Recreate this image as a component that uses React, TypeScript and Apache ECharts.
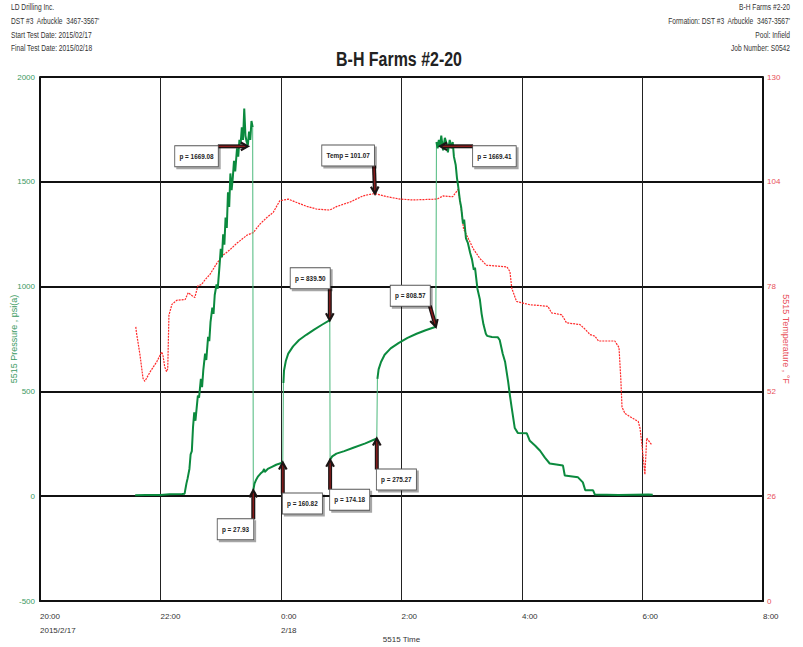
import React, { useEffect, useRef } from "react";
import * as echarts from "echarts";

// ---- Data (hours after 2015/2/17 20:00) ----
const xTickLabels = ["20:00\n2015/2/17", "22:00", "0:00\n2/18", "2:00", "4:00", "6:00", "8:00"];

const pressureSeg1: number[][] = [
  [1.58, 5], [1.75, 6], [2.0, 6], [2.15, 9], [2.36, 10], [2.4, 12],
  [2.43, 60], [2.45, 85], [2.48, 130], [2.5, 200], [2.52, 215], [2.54, 330], [2.56, 400], [2.58, 360],
  [2.6, 420], [2.62, 480], [2.64, 470], [2.67, 560], [2.69, 520], [2.71, 600], [2.74, 680], [2.76, 650],
  [2.79, 760], [2.81, 740], [2.83, 830], [2.86, 900], [2.88, 870], [2.9, 960], [2.93, 1010], [2.95, 990],
  [2.98, 1100], [3.0, 1180], [3.02, 1140], [3.04, 1250], [3.06, 1200], [3.08, 1330], [3.1, 1280],
  [3.12, 1450], [3.14, 1380], [3.16, 1540], [3.18, 1460], [3.2, 1520], [3.22, 1600], [3.24, 1550],
  [3.27, 1660], [3.29, 1620], [3.31, 1700], [3.33, 1680], [3.35, 1760], [3.37, 1700], [3.39, 1850],
  [3.41, 1720], [3.43, 1690], [3.45, 1675], [3.47, 1740], [3.49, 1700], [3.51, 1790], [3.53, 1760],
];
const pressureSeg2: number[][] = [
  [3.54, 27.93], [3.56, 60], [3.59, 80], [3.62, 95], [3.66, 108], [3.7, 118], [3.72, 130], [3.73, 115],
  [3.78, 130], [3.85, 140], [3.92, 150], [4.03, 160.82],
];
const pressureSeg3: number[][] = [
  [4.04, 540], [4.05, 600], [4.08, 645], [4.12, 680], [4.2, 715], [4.3, 745], [4.42, 770], [4.55, 795],
  [4.68, 818], [4.81, 839.5],
];
const pressureSeg4: number[][] = [
  [4.815, 174.18], [4.85, 190], [4.92, 203], [5.05, 215], [5.2, 231], [5.4, 252], [5.59, 275.27],
];
const pressureSeg5: number[][] = [
  [5.6, 560], [5.62, 605], [5.66, 640], [5.72, 675], [5.82, 705], [5.95, 730], [6.1, 755], [6.25, 775],
  [6.4, 792], [6.57, 808.57],
];
const pressureSeg6: number[][] = [
  [6.58, 1690], [6.6, 1660], [6.62, 1700], [6.64, 1669.41], [6.66, 1720], [6.69, 1650], [6.72, 1710],
  [6.75, 1680], [6.77, 1640], [6.8, 1700], [6.83, 1660], [6.85, 1690], [6.87, 1620], [6.9, 1580],
  [6.92, 1520], [6.94, 1480], [6.97, 1410], [6.99, 1380], [7.02, 1300], [7.04, 1320], [7.07, 1230],
  [7.1, 1210], [7.14, 1160], [7.17, 1130], [7.2, 1080], [7.22, 1090], [7.26, 990], [7.3, 940],
  [7.33, 870], [7.36, 820], [7.4, 775], [7.42, 765], [7.5, 760], [7.6, 758], [7.63, 745], [7.68, 680],
  [7.72, 640], [7.77, 547], [7.8, 480], [7.83, 420], [7.88, 325], [7.93, 302], [8.08, 300], [8.13, 264],
  [8.22, 241], [8.3, 217], [8.38, 184], [8.46, 156], [8.68, 146], [8.71, 99], [8.93, 90], [9.01, 66],
  [9.05, 28], [9.18, 28], [9.21, 8], [9.6, 6], [10.1, 8], [10.17, 7],
];

const temperature: number[][] = [
  [1.59, 68], [1.6, 66.7], [1.66, 61], [1.71, 55.2], [1.74, 54.5], [1.83, 56.9], [1.94, 59.4],
  [2.02, 61.8], [2.04, 61], [2.07, 58.1], [2.1, 56.9], [2.12, 57.6], [2.14, 70.9], [2.19, 73.6],
  [2.27, 74.6], [2.41, 74.8], [2.46, 76.5], [2.52, 75.8], [2.57, 75.3], [2.62, 78.2], [2.68, 78.5],
  [2.74, 79.7], [2.82, 81], [2.94, 83.9], [3.04, 85.8], [3.15, 87.1], [3.27, 88.8], [3.44, 90.8],
  [3.54, 91.4], [3.65, 93.5], [3.77, 95.2], [3.87, 96.4], [3.98, 99.3], [4.12, 99.7], [4.27, 98.8],
  [4.43, 97.9], [4.6, 97.2], [4.81, 97.0], [4.93, 97.9], [5.15, 99.0], [5.36, 100.5], [5.48, 100.9],
  [5.56, 101.07], [5.76, 100.3], [5.98, 99.7], [6.19, 99.5], [6.59, 99.7], [6.69, 100.5], [6.85, 100.3],
  [6.94, 102.1], [7.0, 96.4], [7.03, 92.3], [7.11, 89.9], [7.19, 87.4], [7.3, 85], [7.41, 83.3],
  [7.75, 82.9], [7.8, 81.7], [7.83, 77.6], [7.91, 74.3], [8.13, 73.5], [8.3, 73.3], [8.43, 73.1],
  [8.49, 71.5], [8.66, 71.0], [8.74, 69], [8.96, 68.6], [9.05, 67.4], [9.13, 66.1], [9.21, 65.7],
  [9.27, 64.5], [9.54, 64.5], [9.61, 62.9], [9.64, 55.1], [9.66, 48.1], [9.71, 46.5], [9.93, 44.5],
  [9.96, 42.8], [9.99, 38.8], [10.04, 31.4], [10.07, 40.4], [10.15, 38.8],
];

// annotation values: [hour, value]
const pressureNotes: number[][] = [
  [3.45, 1669.08], [6.64, 1669.41], [4.81, 839.5], [6.57, 808.57],
  [3.54, 27.93], [4.03, 160.82], [4.815, 174.18], [5.59, 275.27],
];
const pressureNoteText = [
  "p = 1669.08", "p = 1669.41", "p = 839.50", "p = 808.57",
  "p = 27.93", "p = 160.82", "p = 174.18", "p = 275.27",
];
const tempNotes: number[][] = [[5.56, 101.07]];
const tempNoteText = ["Temp = 101.07"];

// layout of annotation boxes (offset of arrow tail from tip, and box corner at the tail)
const pressureNoteLayout = [
  { dx: -30, dy: 0, anchor: "tr" },
  { dx: 33, dy: 0, anchor: "tl" },
  { dx: 0, dy: -32, anchor: "br" },
  { dx: -6, dy: -21, anchor: "br" },
  { dx: 0, dy: 29, anchor: "tr" },
  { dx: 0, dy: 31, anchor: "tl" },
  { dx: 0, dy: 30, anchor: "tl" },
  { dx: 0, dy: 31, anchor: "tl" },
];
const tempNoteLayout = [{ dx: -1, dy: -28, anchor: "br" }];

const FONT = "'Liberation Sans', Arial, sans-serif";

function buildSegments(segs: number[][][]) {
  const out: (number[] | null)[] = [];
  segs.forEach((s, i) => {
    if (i > 0) out.push(null);
    s.forEach((p) => out.push(p));
  });
  return out;
}
function buildJumps(segs: number[][][]) {
  const out: (number[] | null)[] = [];
  for (let i = 1; i < segs.length; i++) {
    const a = segs[i - 1][segs[i - 1].length - 1];
    const b = segs[i][0];
    out.push(a, b, null);
  }
  return out;
}

function makeNoteRenderer(texts: string[], layouts: { dx: number; dy: number; anchor: string }[]) {
  return (params: any, api: any) => {
    const idx = api.value(2);
    const tip = api.coord([api.value(0), api.value(1)]);
    const lay = layouts[idx];
    const tail = [tip[0] + lay.dx, tip[1] + lay.dy];
    const ang = Math.atan2(tip[1] - tail[1], tip[0] - tail[0]);
    const len = 8;
    const spread = 0.5;
    const h1 = [tip[0] - len * Math.cos(ang - spread), tip[1] - len * Math.sin(ang - spread)];
    const h2 = [tip[0] - len * Math.cos(ang + spread), tip[1] - len * Math.sin(ang + spread)];
    const shaftEnd = [tip[0] - 2 * Math.cos(ang), tip[1] - 2 * Math.sin(ang)];
    return {
      type: "group",
      children: [
        {
          type: "line",
          shape: { x1: tail[0], y1: tail[1], x2: shaftEnd[0], y2: shaftEnd[1] },
          style: { stroke: "#1b1414", lineWidth: 4 },
        },
        {
          type: "line",
          shape: { x1: tail[0], y1: tail[1], x2: shaftEnd[0], y2: shaftEnd[1] },
          style: { stroke: "#8a1c1c", lineWidth: 1.4 },
        },
        {
          type: "polyline",
          shape: { points: [h1, tip, h2] },
          style: { stroke: "#1b1414", lineWidth: 2.2, fill: "none" },
        },
        {
          type: "text",
          x: tail[0],
          y: tail[1],
          scaleX: 0.85,
          style: {
            x: 0,
            y: 0,
            text: texts[idx],
            align: lay.anchor[1] === "r" ? "right" : "left",
            verticalAlign: lay.anchor[0] === "t" ? "top" : "bottom",
            font: `bold 7.5px ${FONT}`,
            fill: "#222",
            backgroundColor: "#fff",
            borderColor: "#555",
            borderWidth: 1,
            padding: [6, 5, 6, 5],
            shadowColor: "rgba(0,0,0,0.35)",
            shadowOffsetX: 2,
            shadowOffsetY: 2,
            shadowBlur: 1,
          },
        },
      ],
    };
  };
}

export default function App() {
  const ref = useRef<HTMLDivElement>(null);
  useEffect(() => {
    if (!ref.current) return;
    const chart = echarts.init(ref.current, undefined, { renderer: "svg" });
    const segs = [pressureSeg1, pressureSeg2, pressureSeg3, pressureSeg4, pressureSeg5, pressureSeg6];
    const headerStyle = { font: `9.5px ${FONT}`, fill: "#333" };
    const leftHeader = ["LD Drilling Inc.", "DST #3  Arbuckle  3467-3567'", "Start Test Date: 2015/02/17", "Final Test Date: 2015/02/18"];
    const rightHeader = ["B-H Farms #2-20", "Formation: DST #3  Arbuckle  3467-3567'", "Pool: Infield", "Job Number: S0542"];
    const lineYs = [7.5, 21.5, 35, 48.5];
    const graphics: any[] = [];
    leftHeader.forEach((t, i) =>
      graphics.push({
        type: "text", x: 11, y: lineYs[i], scaleX: 0.7,
        style: { ...headerStyle, text: t, x: 0, y: 0, align: "left", verticalAlign: "middle" },
      })
    );
    rightHeader.forEach((t, i) =>
      graphics.push({
        type: "text", x: 790, y: lineYs[i], scaleX: 0.7,
        style: { ...headerStyle, text: t, x: 0, y: 0, align: "right", verticalAlign: "middle" },
      })
    );
    graphics.push({
      type: "text", x: 399, y: 59, scaleX: 0.76,
      style: { text: "B-H Farms #2-20", x: 0, y: 0, font: `bold 21px ${FONT}`, fill: "#222", align: "center", verticalAlign: "middle" },
    });

    const option: any = {
      animation: false,
      backgroundColor: "#fff",
      textStyle: { fontFamily: FONT },
      graphic: graphics,
      grid: { left: 40, right: 40, top: 77, bottom: 46, containLabel: false, outerBoundsMode: "none" },
      xAxis: {
        type: "value", min: 0, max: 12, interval: 2,
        axisLine: { show: true, onZero: false, lineStyle: { color: "#111", width: 2 } },
        axisTick: { show: false },
        splitLine: { show: true, lineStyle: { color: "#222", width: 1 } },
        axisLabel: {
          formatter: (v: number) => xTickLabels[Math.round(v / 2)],
          align: "left", color: "#333", fontSize: 8, lineHeight: 14, margin: 8,
          showMinLabel: true, showMaxLabel: true,
        },
        name: "5515 Time", nameLocation: "middle", nameGap: 34, nameMoveOverlap: false,
        nameTextStyle: { fontSize: 8, color: "#333" },
      },
      yAxis: [
        {
          type: "value", min: -500, max: 2000, interval: 500, position: "left",
          axisLine: { show: true, lineStyle: { color: "#111", width: 2 } },
          axisTick: { show: false },
          splitLine: { show: true, lineStyle: { color: "#111", width: 2 } },
          axisLabel: { color: "#3a9a62", fontSize: 8, margin: 5, formatter: (v: number) => String(v) },
          name: "5515 Pressure , psi(a)", nameLocation: "middle", nameGap: 22, nameRotate: 90,
          nameMoveOverlap: false,
          nameTextStyle: { color: "#3a9a62", fontSize: 9 },
        },
        {
          type: "value", min: 0, max: 130, interval: 26, position: "right",
          axisLine: { show: true, lineStyle: { color: "#111", width: 2 } },
          axisTick: { show: false },
          splitLine: { show: false },
          axisLabel: { color: "#e8505a", fontSize: 8, margin: 4, formatter: (v: number) => String(v) },
          name: "5515 Temperature , °F", nameLocation: "middle", nameGap: 18, nameRotate: -90,
          nameMoveOverlap: false,
          nameTextStyle: { color: "#e8505a", fontSize: 9 },
        },
      ],
      series: [
        {
          name: "Temperature", type: "line", yAxisIndex: 1, data: temperature,
          showSymbol: false, symbol: "none", z: 2,
          lineStyle: { color: "#ff2a2a", width: 1.2, type: [2, 1] },
        },
        {
          name: "Pressure jumps", type: "line", yAxisIndex: 0, data: buildJumps(segs),
          showSymbol: false, symbol: "none", connectNulls: false, z: 3,
          lineStyle: { color: "#4cb97c", width: 1 },
        },
        {
          name: "Pressure", type: "line", yAxisIndex: 0, data: buildSegments(segs),
          showSymbol: false, symbol: "none", connectNulls: false, z: 4,
          lineStyle: { color: "#0b8a3e", width: 2 },
        },
        {
          type: "custom", yAxisIndex: 0, z: 10,
          data: pressureNotes.map((p, i) => [p[0], p[1], i]),
          renderItem: makeNoteRenderer(pressureNoteText, pressureNoteLayout),
        },
        {
          type: "custom", yAxisIndex: 1, z: 10,
          data: tempNotes.map((p, i) => [p[0], p[1], i]),
          renderItem: makeNoteRenderer(tempNoteText, tempNoteLayout),
        },
      ],
    };
    chart.setOption(option);
    return () => chart.dispose();
  }, []);
  return <div ref={ref} style={{ position: "fixed", left: 0, top: 0, width: 803, height: 647, background: "#fff" }} />;
}
